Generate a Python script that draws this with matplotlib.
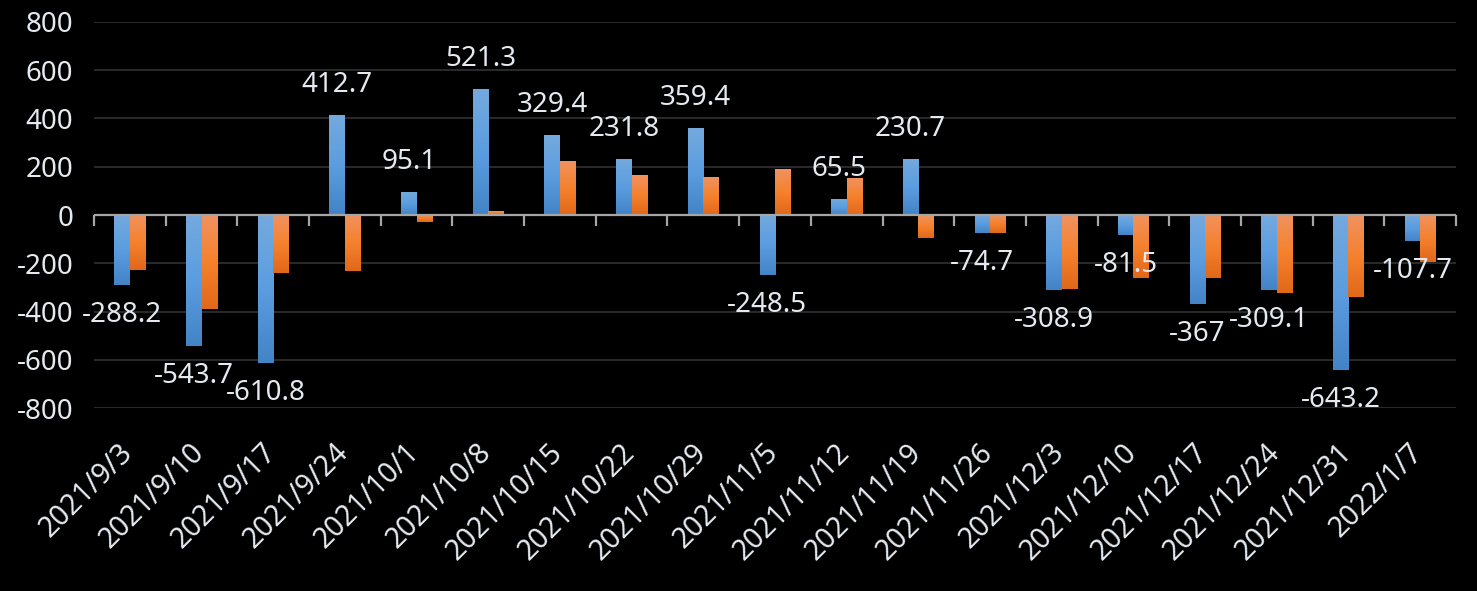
import numpy as np
import matplotlib
matplotlib.use("Agg")
import matplotlib.pyplot as plt
from matplotlib.colors import LinearSegmentedColormap
from matplotlib.patches import Rectangle

categories = ["2021/9/3", "2021/9/10", "2021/9/17", "2021/9/24", "2021/10/1",
              "2021/10/8", "2021/10/15", "2021/10/22", "2021/10/29", "2021/11/5",
              "2021/11/12", "2021/11/19", "2021/11/26", "2021/12/3", "2021/12/10",
              "2021/12/17", "2021/12/24", "2021/12/31", "2022/1/7"]
series_blue = [-288.2, -543.7, -610.8, 412.7, 95.1, 521.3, 329.4, 231.8, 359.4, -248.5,
               65.5, 230.7, -74.7, -308.9, -81.5, -367, -309.1, -643.2, -107.7]
series_orange = [-228, -389, -240, -232, -29, 15, 222, 164, 156, 189,
                 155, -95, -75, -306, -261, -261, -323, -339, -195]
blue_labels = ["-288.2", "-543.7", "-610.8", "412.7", "95.1", "521.3", "329.4", "231.8",
               "359.4", "-248.5", "65.5", "230.7", "-74.7", "-308.9", "-81.5", "-367",
               "-309.1", "-643.2", "-107.7"]
yticks = [-800, -600, -400, -200, 0, 200, 400, 600, 800]

plt.rcParams['font.family'] = ['Noto Sans', 'DejaVu Sans']
plt.rcParams['font.weight'] = 'light'
TEXT = "#e4eaf0"
FW = "light"

W, H = 1477, 591
fig = plt.figure(figsize=(W / 100, H / 100), dpi=100, facecolor="black")
ax = fig.add_axes([94 / W, 1 - 408.3 / H, (1456 - 94) / W, (408.3 - 21.7) / H])
ax.set_facecolor("black")

n = len(categories)
x = np.arange(n)
bw = 0.216

cmap_blue = LinearSegmentedColormap.from_list("b", ["#74a9de", "#5b9de0", "#4384c6"])
cmap_orange = LinearSegmentedColormap.from_list("o", ["#f1925f", "#f5812d", "#e1681a"])
grad = np.linspace(0, 1, 64).reshape(-1, 1)

def draw_bar(xc, val, cmap):
    left = xc - bw / 2
    bottom = min(0, val)
    top = max(0, val)
    rect = Rectangle((left, bottom), bw, top - bottom, facecolor="none", edgecolor="none")
    ax.add_patch(rect)
    im = ax.imshow(grad, extent=[left, left + bw, bottom, top], origin="upper",
                   aspect="auto", cmap=cmap, interpolation="bilinear", zorder=3)
    im.set_clip_path(rect)

for i in range(n):
    draw_bar(x[i] - bw / 2, series_blue[i], cmap_blue)
    draw_bar(x[i] + bw / 2, series_orange[i], cmap_orange)

ax.set_xlim(-0.5, n - 0.5)
ax.set_ylim(-800, 800)
ax.set_yticks(yticks)
ax.set_yticklabels([str(v) for v in yticks], color=TEXT, fontsize=20, fontweight=FW)
ax.tick_params(axis="y", length=0, pad=15)
ax.set_xticks([])
for s in ax.spines.values():
    s.set_visible(False)
ax.grid(axis="y", color="#2e2e2e", linewidth=1.3, zorder=0)
ax.set_axisbelow(True)

# zero axis line with boundary ticks
ax.axhline(0, color="#a6a6a6", linewidth=1.6, zorder=4)
bounds = np.arange(n + 1) - 0.5
tick_len = 11 / (408.3 - 21.7) * 1600
ax.vlines(bounds, -tick_len, 0, color="#a6a6a6", linewidth=1.6, zorder=4, clip_on=False)

# data labels (blue series)
for i in range(n):
    v = series_blue[i]
    off = 30 if v >= 0 else -30
    ax.annotate(blue_labels[i], (x[i] - bw / 2, v), xytext=(0, off * 0.72),
                textcoords="offset points", ha="center", va="center",
                color=TEXT, fontsize=20, fontweight=FW, zorder=5)

# category labels at the bottom
trans = ax.get_xaxis_transform()
for i, lab in enumerate(categories):
    ax.text(x[i] + 9 / 71.7, (408.3 - 438) / (408.3 - 21.7), lab, transform=trans,
            rotation=45, ha="right", va="top", color=TEXT, fontsize=20.5, fontweight=FW)

fig.savefig("out.png", dpi=100, facecolor="black")
